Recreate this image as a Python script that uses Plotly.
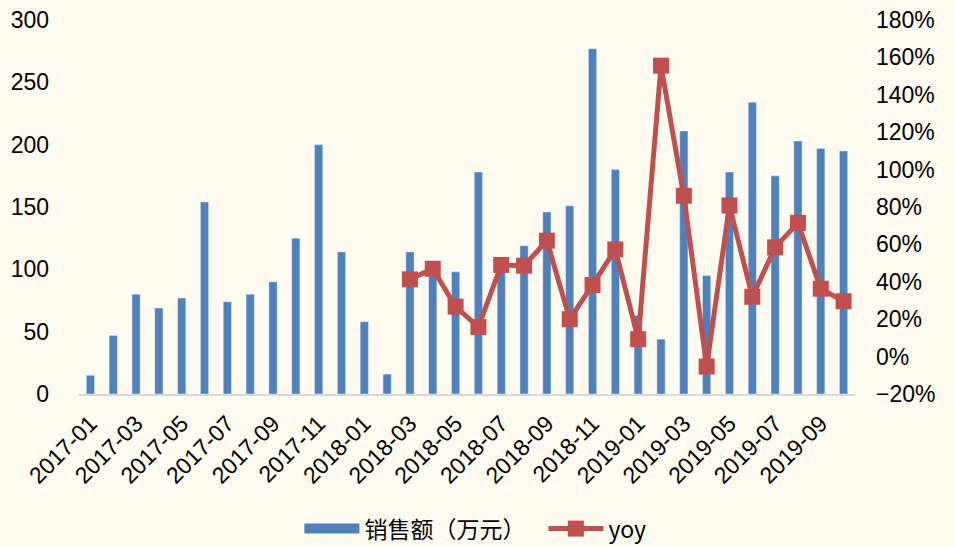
import plotly.graph_objects as go

months = [f"{y}-{m:02d}" for y in (2017, 2018, 2019) for m in range(1, 13)][:34]
sales = [15, 47, 80, 69, 77, 154, 74, 80, 90, 125, 200, 114,
         58, 16, 114, 100, 98, 178, 102, 119, 146, 151, 277, 180,
         63, 44, 211, 95, 178, 234, 175, 203, 197, 195]
yoy_months = months[14:]
yoy = [41.3, 47, 26.7, 15.8, 49, 48.6, 62, 20, 38.3, 57.3,
       9.3, 155.6, 86, -5.3, 80.8, 32, 58.4, 71.5, 36.3, 29.6]
tick_labels = months[::2]

BAR_COLOR = "#4F81BD"
LINE_COLOR = "#C0504D"

fig = go.Figure()
fig.add_trace(go.Bar(x=months, y=sales, name="销售额（万元）",
                     marker_color=BAR_COLOR, yaxis="y", showlegend=False))
# legend-only entry with a wide swatch for the bars
fig.add_trace(go.Scatter(x=[None], y=[None], name="销售额（万元）", mode="lines",
                         line=dict(color=BAR_COLOR, width=12), yaxis="y"))
fig.add_trace(go.Scatter(x=yoy_months, y=yoy, name="yoy", yaxis="y2",
                         mode="lines+markers",
                         line=dict(color=LINE_COLOR, width=5),
                         marker=dict(symbol="square", size=16, color=LINE_COLOR)))

font_main = "Liberation Sans, Arial, sans-serif"
fig.update_layout(
    width=955, height=547,
    paper_bgcolor="#FFFBF1", plot_bgcolor="#FFFBF1",
    margin=dict(l=79, r=100, t=20, b=153, autoexpand=False),
    bargap=0.64,
    showlegend=True,
    legend=dict(orientation="h", x=0.284, xanchor="left", y=-0.36, yanchor="middle",
                font=dict(family="Noto Sans CJK SC, " + font_main, size=23, color="#000"),
                itemwidth=55, bgcolor="rgba(0,0,0,0)",
                entrywidth=174, entrywidthmode="pixels"),
    xaxis=dict(type="category", tickmode="array", tickvals=tick_labels, ticktext=tick_labels,
               tickangle=-45, tickfont=dict(family=font_main, size=23, color="#000"),
               showline=True, linecolor="#D9D9D9", linewidth=2, showgrid=False,
               ticks="", range=[-0.5, 33.5], automargin=False, ticklabelstandoff=5),
    yaxis=dict(range=[0, 300], dtick=50, showgrid=False, zeroline=False, automargin=False,
               tickfont=dict(family=font_main, size=23, color="#000"), ticks="",
               ticklabelstandoff=29),
    yaxis2=dict(range=[-20, 180], dtick=20, overlaying="y", side="right", automargin=False,
                showgrid=False, zeroline=False, ticksuffix="%",
                tickfont=dict(family=font_main, size=23, color="#000"), ticks="",
                ticklabelstandoff=20),
)
fig.write_html("out.html", config={"displayModeBar": False},
               post_script="document.body.style.margin='0';document.body.style.overflow='hidden';")
